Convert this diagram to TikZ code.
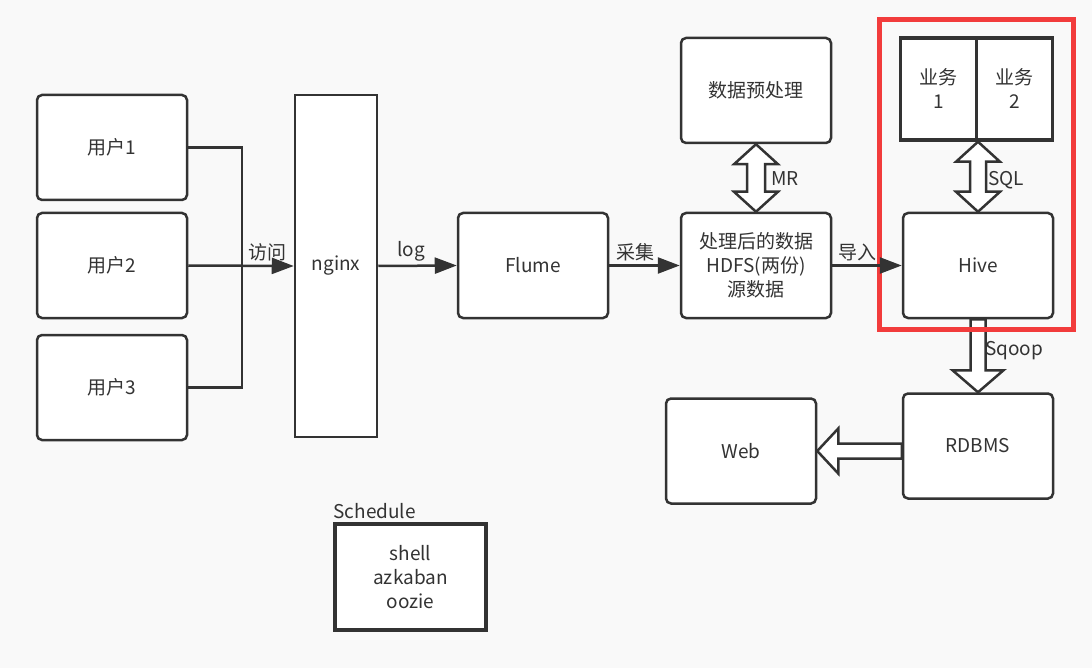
\documentclass[tikz,border=0pt]{standalone}
\usepackage{fontspec}
\setmainfont{Noto Sans CJK SC}
\usepackage{tikz}
\usetikzlibrary{arrows.meta,calc,backgrounds}
\definecolor{ink}{HTML}{333333}
\definecolor{paper}{HTML}{F9F9F9}
\definecolor{hivered}{HTML}{F23C3C}

\begin{document}
\begin{tikzpicture}[x=1pt, y=-1pt, every node/.style={font=\fontsize{19}{24}\selectfont, text=ink}]
	\tikzset{box/.style={draw=ink, line width=2.5pt, fill=white, rounded corners=5pt, minimum width=150pt, minimum height=105pt, align=center}}
	\tikzset{sq/.style={draw=ink, line width=3.5pt, fill=white, align=center}}
	\tikzset{fat/.style={draw=ink, line width=2.5pt, fill=white, line join=miter}}
	\tikzset{arr/.style={draw=ink, line width=2.5pt, -{Triangle[length=22pt,width=16pt]}}}
	\useasboundingbox (0,0) rectangle (1092,668);
	\draw[hivered, line width=5pt] (879,20) rectangle (1073,329);
	% users and nginx
	\node[box] (u1) at (112,147.5) {用户1};
	\node[box] (u2) at (112,265.5) {用户2};
	\node[box] (u3) at (112,387.5) {用户3};
	\node[box, rounded corners=0pt, minimum width=82pt, minimum height=342pt] (ngx) at (336,266) {nginx};
	% collecting
	\node[box] (flm) at (533,265.5) {Flume};
	\node[box] (proc) at (756,265.5) {处理后的数据\\HDFS(两份)\\源数据};
	\node[box] (pre) at (756,90.5) {数据预处理};
	% warehouse
	\node[box] (hive) at (978,265.5) {Hive};
	\node[sq, minimum width=76pt, minimum height=102pt] (b1) at (938.5,89) {业务\\1};
	\node[sq, minimum width=76pt, minimum height=102pt] (b2) at (1014.5,89) {业务\\2};
	\node[box] (rdb) at (978,446) {RDBMS};
	\node[box] (web) at (741,451) {Web};
	\node[sq, minimum width=151pt, minimum height=106pt, label={[anchor=south west, inner sep=0pt, yshift=3pt]north west:Schedule}] (sch) at (410.5,577) {shell\\azkaban\\oozie};
	\coordinate (j) at (242,266);
	\coordinate (sqlt) at (hive.north |- b1.south);
	\coordinate (wa) at (rdb.west |- web.east);
	\draw[ink, line width=2.5pt] (u1.east) -| (j) |- (u3.east);
	\draw[arr] (u2.east) -- node[above, pos=0.75] {访问} (ngx.west);
	\draw[arr] (ngx.east) -- node[above, pos=0.42] {log} (flm.west);
	\draw[arr] (flm.east) -- node[above, pos=0.37] {采集} (proc.west);
	\draw[arr] (proc.east) -- node[above, pos=0.37] {导入} (hive.west);
	\begin{scope}[on background layer]
	\fill[paper] (0,0) rectangle (1092,668);
	\draw[fat] (pre.south) -- ++(-22,20) -- ++(13,0) -- ($(proc.north)+(-9,-20)$) -- ++(-13,0) -- (proc.north) -- ++(22,-20) -- ++(-13,0) -- ($(pre.south)+(9,20)$) -- ++(13,0) -- cycle;
	\draw[fat] (sqlt) -- ++(-22,20) -- ++(14,0) -- ($(hive.north)+(-8,-20)$) -- ++(-14,0) -- (hive.north) -- ++(22,-20) -- ++(-14,0) -- ($(sqlt)+(8,20)$) -- ++(14,0) -- cycle;
	\draw[fat] (hive.south) ++(-7.5,0) -- ($(rdb.north)+(-7.5,-22)$) -- ++(-18,0) -- (rdb.north) -- ++(25.5,-22) -- ++(-18,0) -- ($(hive.south)+(7.5,0)$) -- cycle;
	\draw[fat] (web.east) -- ++(21,-22.5) -- ++(0,15) -- ($(wa)+(0,-7.5)$) -- ++(0,15) -- ($(web.east)+(21,7.5)$) -- ++(0,15) -- cycle;
	\end{scope}
	\node (mr) at (785,179) {MR};
	\node (sql) at (1006,180) {SQL};
	\node (sqp) at (1014,351) {Sqoop};
\end{tikzpicture}
\end{document}
